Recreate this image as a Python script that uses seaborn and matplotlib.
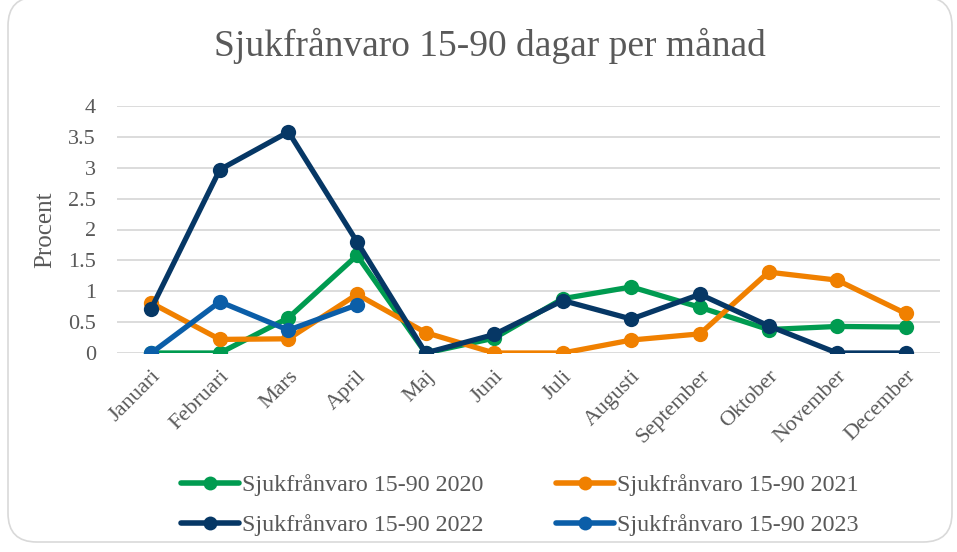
import matplotlib
matplotlib.use("Agg")
import matplotlib.pyplot as plt
from matplotlib.patches import FancyBboxPatch
from matplotlib.lines import Line2D
import seaborn as sns
import pandas as pd
import numpy as np

months = ["Januari", "Februari", "Mars", "April", "Maj", "Juni", "Juli",
          "Augusti", "September", "Oktober", "November", "December"]
s2020 = [0, 0, 0.57, 1.58, 0, 0.24, 0.88, 1.07, 0.74, 0.38, 0.43, 0.42]
s2021 = [0.81, 0.22, 0.23, 0.95, 0.33, 0, 0, 0.21, 0.31, 1.31, 1.18, 0.64]
s2022 = [0.72, 2.97, 3.58, 1.80, 0, 0.30, 0.85, 0.55, 0.95, 0.44, 0, 0]
s2023 = [0, 0.83, 0.37, 0.78]
series_names = ["Sjukfrånvaro 15-90 2020", "Sjukfrånvaro 15-90 2021",
                "Sjukfrånvaro 15-90 2022", "Sjukfrånvaro 15-90 2023"]
colors = ["#009B50", "#F08000", "#063765", "#0B5EA8"]
yticks = [0, 0.5, 1, 1.5, 2, 2.5, 3, 3.5, 4]
ytick_labels = ["0", "0.5", "1", "1.5", "2", "2.5", "3", "3.5", "4"]

rows = []
for name, vals in zip(series_names, [s2020, s2021, s2022, s2023]):
    for i, v in enumerate(vals):
        rows.append({"month": months[i], "x": i, "value": v, "series": name})
df = pd.DataFrame(rows)

sns.set_theme(style="white")
plt.rcParams["font.family"] = ["Liberation Serif", "DejaVu Serif"]
text_color = "#595959"

fig = plt.figure(figsize=(9.57, 5.52), dpi=100)
fig.patch.set_facecolor("white")
frame = FancyBboxPatch((8 / 957, 10 / 552), 944 / 957, 545 / 552,
                       boxstyle="round,pad=0,rounding_size=0.03",
                       transform=fig.transFigure, facecolor="white",
                       edgecolor="#D9D9D9", linewidth=1.2, zorder=-10,
                       mutation_aspect=957 / 552)
fig.patches.append(frame)

ax = fig.add_axes([117 / 957, 1 - 353 / 552, (940 - 117) / 957, (353 - 106) / 552])
ax.set_facecolor("none")

sns.lineplot(data=df, x="x", y="value", hue="series", hue_order=series_names,
             palette=colors, marker="o", markersize=11, markeredgewidth=0,
             linewidth=3.8, ax=ax, legend=False, sort=False)

ax.set_xlim(-0.5, 11.5)
ax.set_ylim(0, 4)
ax.set_yticks(yticks)
ax.set_yticklabels(ytick_labels)
ax.set_xticks(range(12))
ax.set_xticklabels(months, rotation=45, ha="right", rotation_mode="anchor")
ax.tick_params(axis="both", length=0, labelsize=16, labelcolor=text_color)
ax.tick_params(axis="x", pad=10)
ax.tick_params(axis="y", pad=15)
ax.yaxis.grid(True, color="#D9D9D9", linewidth=1.3)
ax.set_axisbelow(True)
for sp in ax.spines.values():
    sp.set_visible(False)
ax.set_xlabel("")
ax.set_ylabel("Procent", fontsize=18, color=text_color, labelpad=9)

fig.text(490 / 957, 1 - 46 / 552, "Sjukfrånvaro 15-90 dagar per månad",
         ha="center", va="center", fontsize=27, color=text_color)

handles = [Line2D([0], [0], color=c, linewidth=4, marker="o", markersize=10,
                  markeredgewidth=0) for c in colors]
order = [0, 2, 1, 3]
fig.legend([handles[i] for i in order], [series_names[i] for i in order],
           loc="center", ncol=2,
           bbox_to_anchor=(520 / 957, 1 - 505 / 552), frameon=False,
           fontsize=17.3, labelcolor=text_color, handlelength=2.4,
           handletextpad=0.15, columnspacing=3.0, labelspacing=0.75)

fig.savefig("out.png", dpi=100, facecolor="white")
